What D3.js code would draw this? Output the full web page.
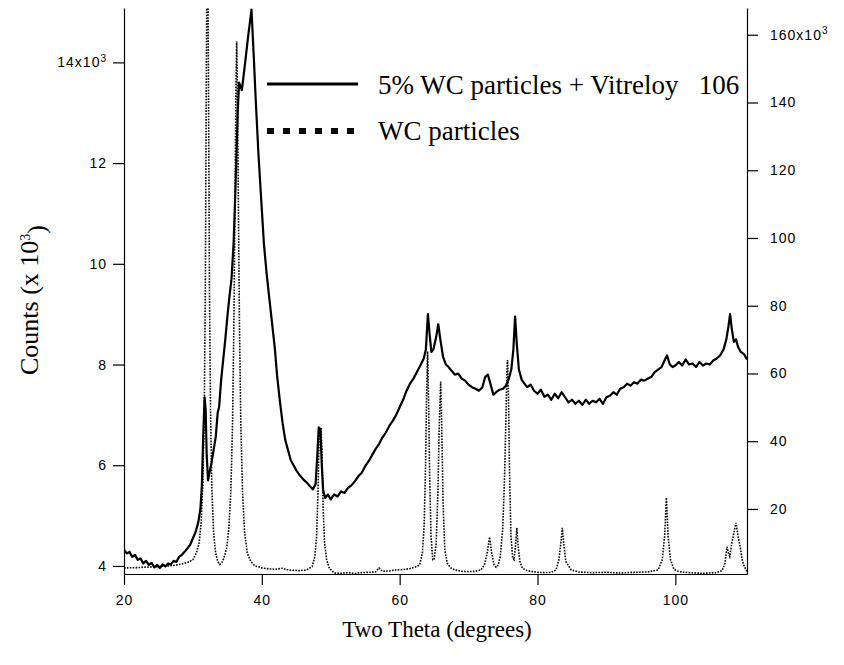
<!DOCTYPE html>
<html>
<head>
<meta charset="UTF-8">
<title>XRD - WC particles + Vitreloy 106</title>
<script src="https://cdn.jsdelivr.net/npm/d3@7"></script>
<style>
    body { margin: 0; background: #fff; }
    .tick text { font-family: "Liberation Sans", Arial, sans-serif; font-size: 14px; letter-spacing: 1px; fill: #000; }
    .tick line, .domain { stroke: #000; stroke-width: 1.2; }
    .title { font-family: "Liberation Serif", "Times New Roman", serif; font-size: 23px; fill: #000; }
    .legend { font-family: "Liberation Serif", "Times New Roman", serif; font-size: 27px; fill: #000; }
</style>
</head>
<body>
<div id="chart"></div>
<script>
    // 2-theta (deg) / counts (x10^3) for the composite, left axis
    var compositeScan = [
        [20.0,4.32],[20.4,4.25],[20.8,4.28],[21.2,4.18],[21.6,4.22],[22.0,4.12],[22.4,4.15],[22.8,4.05],
        [23.2,4.10],[23.6,4.02],[24.0,4.06],[24.4,3.97],[24.8,4.02],[25.2,3.96],[25.6,4.03],[26.0,3.99],
        [26.4,4.05],[26.8,4.03],[27.2,4.10],[27.6,4.08],[28.0,4.18],[28.4,4.22],[28.8,4.28],[29.2,4.35],
        [29.6,4.42],[30.0,4.55],[30.4,4.68],[30.8,4.88],[31.1,5.15],[31.3,5.6],[31.5,6.6],[31.7,7.35],
        [31.85,7.1],[32.0,6.2],[32.2,5.7],[32.4,5.85],[32.7,6.05],[33.0,6.3],[33.3,6.55],[33.6,7.05],
        [33.8,7.15],[34.1,7.7],[34.4,8.1],[34.7,8.5],[35.0,8.95],[35.3,9.35],[35.6,9.7],[35.9,10.4],
        [36.2,11.6],[36.5,13.0],[36.7,13.6],[37.1,13.45],[37.5,13.9],[38.0,14.5],[38.5,15.05],[38.8,14.2],
        [39.1,13.3],[39.5,12.2],[39.9,11.3],[40.3,10.4],[40.7,9.8],[41.1,9.3],[41.5,8.8],[41.9,8.3],
        [42.2,7.8],[42.6,7.3],[43.0,6.85],[43.4,6.5],[43.8,6.3],[44.2,6.1],[44.6,6.0],[45.0,5.9],
        [45.5,5.8],[46.0,5.72],[46.5,5.66],[47.0,5.58],[47.4,5.52],[47.8,5.62],[48.05,6.2],[48.25,6.75],
        [48.5,6.7],[48.7,6.0],[48.9,5.5],[49.2,5.35],[49.6,5.42],[50.0,5.32],[50.5,5.42],[51.0,5.38],
        [51.5,5.48],[52.0,5.45],[52.5,5.55],[53.0,5.6],[53.5,5.68],[54.0,5.78],[54.5,5.85],[55.0,5.98],
        [55.5,6.08],[56.0,6.2],[56.5,6.32],[57.0,6.42],[57.5,6.55],[58.0,6.65],[58.5,6.78],[59.0,6.88],
        [59.5,7.0],[60.0,7.15],[60.5,7.3],[61.0,7.48],[61.5,7.62],[62.0,7.72],[62.5,7.85],[63.0,7.98],
        [63.5,8.12],[63.8,8.3],[64.1,9.0],[64.35,8.6],[64.6,8.25],[64.9,8.3],[65.3,8.55],[65.6,8.8],
        [65.9,8.5],[66.3,8.15],[66.7,8.0],[67.1,7.95],[67.5,7.88],[68.0,7.8],[68.5,7.82],[69.0,7.72],
        [69.5,7.68],[70.0,7.6],[70.5,7.55],[71.0,7.52],[71.5,7.48],[72.0,7.55],[72.4,7.75],[72.8,7.8],
        [73.2,7.6],[73.6,7.4],[74.0,7.45],[74.5,7.5],[75.0,7.52],[75.4,7.58],[75.8,7.7],[76.2,7.9],
        [76.5,8.3],[76.75,8.95],[77.0,8.4],[77.3,7.9],[77.7,7.7],[78.1,7.62],[78.5,7.55],[79.0,7.6],
        [79.5,7.48],[80.0,7.42],[80.5,7.5],[81.0,7.36],[81.5,7.4],[82.0,7.3],[82.5,7.42],[83.0,7.33],
        [83.5,7.45],[84.0,7.35],[84.5,7.25],[85.0,7.3],[85.5,7.22],[86.0,7.28],[86.5,7.2],[87.0,7.3],
        [87.5,7.22],[88.0,7.28],[88.5,7.25],[89.0,7.32],[89.5,7.22],[90.0,7.35],[90.5,7.38],[91.0,7.45],
        [91.5,7.4],[92.0,7.52],[92.5,7.55],[93.0,7.62],[93.5,7.58],[94.0,7.65],[94.5,7.62],[95.0,7.7],
        [95.5,7.68],[96.0,7.72],[96.5,7.75],[97.0,7.85],[97.5,7.9],[98.0,7.95],[98.5,8.1],[98.8,8.18],
        [99.2,8.0],[99.6,7.95],[100.0,7.98],[100.5,8.05],[101.0,7.98],[101.5,8.1],[102.0,8.0],[102.5,8.02],
        [103.0,7.95],[103.5,8.05],[104.0,7.98],[104.5,8.02],[105.0,8.0],[105.5,8.08],[106.0,8.12],[106.5,8.18],
        [107.0,8.3],[107.4,8.5],[107.7,8.75],[107.95,9.0],[108.2,8.7],[108.5,8.45],[108.8,8.5],[109.1,8.35],
        [109.5,8.25],[110.0,8.2],[110.4,8.1]
    ];

    // 2-theta (deg) / counts (x10^3) for the WC powder, right axis
    var wcScan = [
        [20.0,2.6],[22.0,2.7],[24.0,2.9],[26.0,3.1],[27.5,3.4],[28.5,3.8],[29.3,4.3],[30.0,5.0],
        [30.5,7.0],[30.9,10],[31.2,16],[31.45,28],[31.65,50],[31.8,85],[31.95,150],[32.1,200],
        [32.25,150],[32.4,85],[32.55,50],[32.75,26],[33.0,13],[33.3,7],[33.6,4.5],[33.9,3.6],
        [34.2,4.2],[34.5,5.5],[34.9,8.5],[35.2,14],[35.5,25],[35.75,45],[35.95,75],[36.1,110],
        [36.25,145],[36.35,158],[36.45,145],[36.6,110],[36.75,75],[36.95,45],[37.2,25],[37.5,13],
        [37.9,7],[38.4,4.5],[39.0,3.2],[40.0,2.6],[41.0,2.3],[42.0,2.2],[43.0,2.5],[43.5,2.1],
        [44.5,1.9],[45.5,1.8],[46.5,2.0],[47.3,3],[47.7,6],[47.95,12],[48.15,25],[48.3,40],
        [48.4,44],[48.5,42],[48.6,44],[48.75,35],[48.9,20],[49.1,10],[49.4,5],[49.8,2.5],
        [50.5,1.1],[51.5,1.0],[52.5,1.2],[53.5,1.0],[54.5,1.2],[55.5,1.3],[56.5,1.4],[57.0,2.6],
        [57.5,1.6],[58.5,1.7],[59.5,2.0],[60.5,2.1],[61.5,2.4],[62.3,2.9],[62.9,3.5],[63.3,7],
        [63.55,15],[63.75,32],[63.9,52],[64.05,66.5],[64.2,52],[64.35,30],[64.55,12],[64.8,5],
        [65.0,5],[65.3,10],[65.55,25],[65.75,45],[65.95,57.6],[66.1,45],[66.3,22],[66.55,8],
        [66.9,4],[67.4,2.6],[68.0,2.0],[69.0,1.6],[70.0,1.5],[71.0,1.6],[71.8,2.0],[72.3,3.5],
        [72.7,7],[73.05,11.7],[73.35,7],[73.7,3.5],[74.0,2.8],[74.3,3.5],[74.6,6],[74.95,14],
        [75.2,28],[75.4,45],[75.55,60],[75.65,64],[75.8,52],[75.95,30],[76.15,12],[76.4,5.5],
        [76.6,5],[76.8,9],[77.0,14.4],[77.2,9],[77.45,4.5],[77.8,2.5],[78.5,1.8],[79.0,1.6],
        [80.0,1.3],[81.0,1.2],[82.0,1.3],[82.7,2.0],[83.1,5],[83.4,10],[83.6,14.4],[83.8,10],
        [84.1,4.5],[84.5,3.2],[84.9,2.0],[86.0,1.4],[88.0,1.2],[90.0,1.3],[92.0,1.1],[94.0,1.3],
        [96.0,1.4],[97.5,2.0],[98.1,5],[98.45,12],[98.7,23.3],[98.95,12],[99.3,5],[99.8,2.2],
        [100.5,1.5],[102.0,1.2],[104.0,1.0],[106.0,1.2],[106.8,1.8],[107.2,4],[107.5,8.8],[107.7,7],
        [107.9,6],[108.2,10],[108.5,13],[108.8,15.9],[109.1,12],[109.4,9],[109.7,5],[110.0,3],
        [110.4,1.5]
    ];

    var xTicks = [20, 40, 60, 80, 100];
    var leftTicks = [4, 6, 8, 10, 12, 14];
    var rightTicks = [20, 40, 60, 80, 100, 120, 140, 160];
    var seriesNames = ["5% WC particles + Vitreloy   106", "WC particles"];

    var width = 844, height = 665;
    var plot = {left: 124, right: 747, top: 8, bottom: 574};

    var svg = d3.select("#chart").append("svg")
        .attr("width", width).attr("height", height);

    var x = d3.scaleLinear().domain([20, 110.4]).range([plot.left, plot.right]);
    var yLeft = d3.scaleLinear().domain([3.84, 15.08]).range([plot.bottom, plot.top]);
    var yRight = d3.scaleLinear().domain([0.8, 167.9]).range([plot.bottom, plot.top]);

    svg.append("defs").append("clipPath").attr("id", "plotclip")
        .append("rect")
        .attr("x", plot.left).attr("y", plot.top)
        .attr("width", plot.right - plot.left).attr("height", plot.bottom - plot.top);

    var lineLeft = d3.line().x(function (d) { return x(d[0]); }).y(function (d) { return yLeft(d[1]); });
    var lineRight = d3.line().x(function (d) { return x(d[0]); }).y(function (d) { return yRight(d[1]); });

    var plotArea = svg.append("g").attr("clip-path", "url(#plotclip)");

    plotArea.append("path")
        .datum(wcScan)
        .attr("d", lineRight)
        .attr("fill", "none")
        .attr("stroke", "#000")
        .attr("stroke-width", 1.6)
        .attr("stroke-dasharray", "1.6,1.3");

    plotArea.append("path")
        .datum(compositeScan)
        .attr("d", lineLeft)
        .attr("fill", "none")
        .attr("stroke", "#000")
        .attr("stroke-width", 2.2)
        .attr("stroke-linejoin", "round");

    // axes
    var gx = svg.append("g")
        .attr("transform", "translate(0," + plot.bottom + ")")
        .call(d3.axisBottom(x).tickValues(xTicks).tickSize(11).tickSizeOuter(0).tickPadding(10));

    var gl = svg.append("g")
        .attr("transform", "translate(" + plot.left + ",0)")
        .call(d3.axisLeft(yLeft).tickValues(leftTicks).tickSize(11).tickSizeOuter(0).tickPadding(6));

    var gr = svg.append("g")
        .attr("transform", "translate(" + plot.right + ",0)")
        .call(d3.axisRight(yRight).tickValues(rightTicks).tickSize(11).tickSizeOuter(0).tickPadding(12));

    function addExponent(sel, topValue, label) {
        sel.selectAll(".tick text").each(function (d) {
            if (d === topValue) {
                var t = d3.select(this).text(label);
                t.append("tspan").attr("dy", "-0.55em").attr("font-size", "10px").text("3");
            }
        });
    }
    addExponent(gl, 14, "14x10");
    addExponent(gr, 160, "160x10");

    // axis titles
    svg.append("text")
        .attr("class", "title")
        .attr("text-anchor", "middle")
        .attr("x", 437)
        .attr("y", 637)
        .text("Two Theta (degrees)");

    var yt = svg.append("text")
        .attr("class", "title")
        .attr("text-anchor", "middle")
        .style("font-size", "26px")
        .attr("transform", "translate(38,300) rotate(-90)");
    yt.append("tspan").text("Counts (x 10");
    yt.append("tspan").attr("dy", "-0.55em").attr("font-size", "14px").text("3");
    yt.append("tspan").attr("dy", "0.55em").text(")");

    // legend
    var legend = svg.append("g");
    legend.append("line")
        .attr("x1", 267).attr("x2", 358).attr("y1", 84).attr("y2", 84)
        .attr("stroke", "#000").attr("stroke-width", 3);
    legend.append("line")
        .attr("x1", 267).attr("x2", 358).attr("y1", 131).attr("y2", 131)
        .attr("stroke", "#000").attr("stroke-width", 6)
        .attr("stroke-dasharray", "7,9");
    legend.selectAll("text.legend")
        .data(seriesNames)
        .enter().append("text")
        .attr("class", "legend")
        .attr("x", 378)
        .attr("y", function (d, i) { return 94 + i * 46; })
        .attr("xml:space", "preserve")
        .style("white-space", "pre")
        .text(function (d) { return d; });
</script>
</body>
</html>
